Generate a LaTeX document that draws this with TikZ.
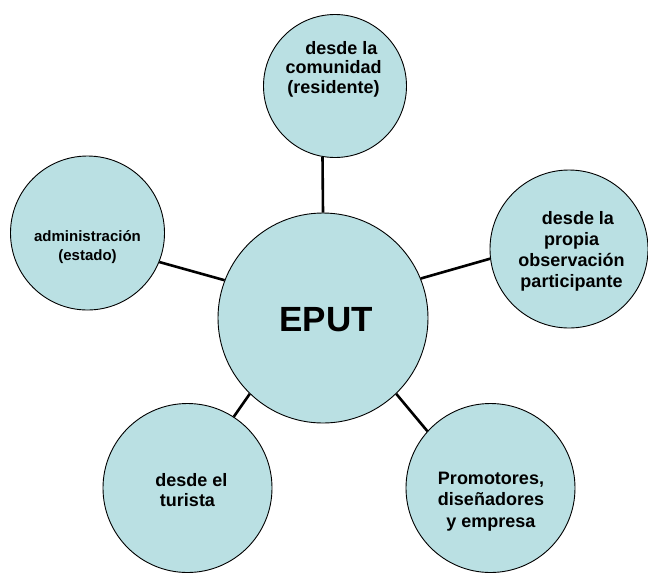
\documentclass[tikz,border=0pt]{standalone}
\usepackage{fontspec}
\setmainfont{Liberation Sans}
\definecolor{bubblefill}{RGB}{186,224,227}
\begin{document}
\begin{tikzpicture}[x=1pt,y=-1pt,
  bubble/.style={circle,draw=black,line width=0.9pt,fill=bubblefill,inner sep=0pt},
  lbl/.style={align=center,inner sep=0pt,text=black},
  link/.style={line width=2.6pt,draw=black}]
\useasboundingbox (0,0) rectangle (648,574);
% circles
\node[bubble,minimum size=210pt] (ep) at (323,318) {};
\node[bubble,minimum size=143pt] (top) at (335,86) {};
\node[bubble,minimum size=154pt] (left) at (87.5,233) {};
\node[bubble,minimum size=158pt] (right) at (569,249) {};
\node[bubble,minimum size=169pt] (bl) at (187.5,488) {};
\node[bubble,minimum size=169pt] (br) at (490.5,488) {};
% connectors
\draw[link] (ep.90) -- (top.260.4);
\draw[link] (ep.159.2) -- (left.-22.2);
\draw[link] (ep.22) -- (right.187.3);
\draw[link] (ep.226.6) -- (bl.57.6);
\draw[link] (ep.-46.2) -- (br.138.4);
% texts
\node[lbl,font=\bfseries\fontsize{35}{40}\selectfont] (tep) at (326,319.5) {EPUT};
\node[lbl,font=\bfseries\fontsize{18}{19.5}\selectfont] (ttop) at (333.5,68.9) {\hspace*{16pt}desde la\\comunidad\\(residente)};
\node[lbl,font=\bfseries\fontsize{15}{19}\selectfont] (tleft) at (87.5,247.5) {administración\\(estado)};
\node[lbl,font=\bfseries\fontsize{18}{21}\selectfont] (tright) at (571.5,251.5) {\hspace*{13pt}desde la\\propia\\observación\\participante};
\node[lbl,font=\bfseries\fontsize{18}{20}\selectfont] (tbl) at (187.5,490) {\hspace*{8pt}desde el\\turista};
\node[lbl,font=\bfseries\fontsize{18}{21.5}\selectfont] (tbr) at (491,501.5) {Promotores,\\diseñadores\\y empresa};
\end{tikzpicture}
\end{document}
